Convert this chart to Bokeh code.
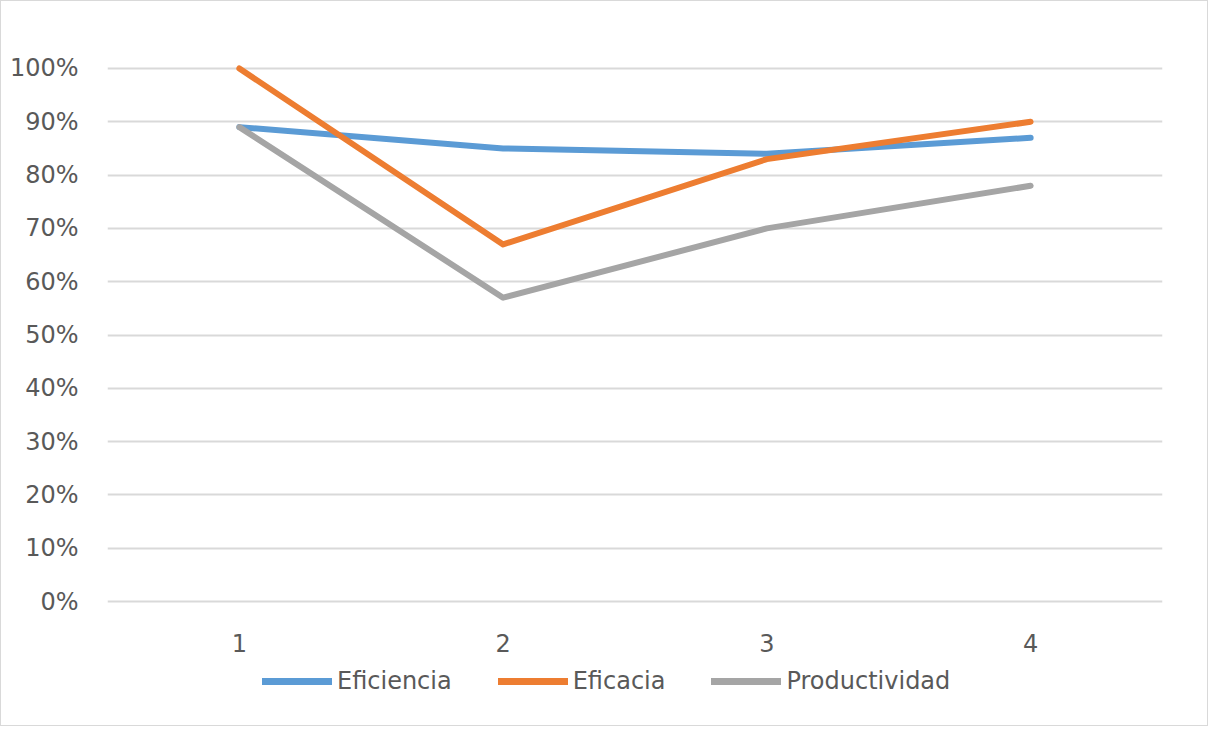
from bokeh.plotting import figure
from bokeh.layouts import column
from bokeh.models import Range1d, FixedTicker, NumeralTickFormatter, Legend, LegendItem
from bokeh.embed import file_html
from bokeh.resources import INLINE

categories = [1, 2, 3, 4]
eficiencia = [0.89, 0.85, 0.84, 0.87]
eficacia = [1.00, 0.67, 0.83, 0.90]
productividad = [0.89, 0.57, 0.70, 0.78]
y_ticks = [i / 10 for i in range(11)]
series_names = ["Eficiencia", "Eficacia", "Productividad"]
series_colors = ["#5B9BD5", "#ED7D31", "#A5A5A5"]

FONT = "DejaVu Sans"
TXT = "#595959"

p = figure(width=1206, height=660, output_backend="svg", toolbar_location=None,
           x_range=Range1d(0.5, 4.5), y_range=Range1d(-0.015, 1.015),
           min_border_left=106, min_border_right=45, min_border_top=59, min_border_bottom=52)
p.outline_line_color = None
p.background_fill_color = "white"
p.border_fill_color = "white"

p.xgrid.grid_line_color = None
p.ygrid.grid_line_color = "#d9d9d9"
p.ygrid.grid_line_width = 2
p.ygrid.ticker = FixedTicker(ticks=y_ticks)

p.yaxis.ticker = FixedTicker(ticks=y_ticks)
p.yaxis.formatter = NumeralTickFormatter(format="0%")
p.xaxis.ticker = FixedTicker(ticks=categories)
for ax in (p.xaxis[0], p.yaxis[0]):
    ax.axis_line_color = None
    ax.major_tick_line_color = None
    ax.minor_tick_line_color = None
    ax.major_label_text_font = FONT
    ax.major_label_text_font_size = "24px"
    ax.major_label_text_color = TXT
p.yaxis.major_label_standoff = 23
p.xaxis.major_label_standoff = 18

for vals, col in zip([eficiencia, eficacia, productividad], series_colors):
    p.line(categories, vals, line_color=col, line_width=6, line_cap="round", line_join="round")

# legend strip below the chart
q = figure(width=1206, height=64, output_backend="svg", toolbar_location=None,
           x_axis_type=None, y_axis_type=None,
           x_range=Range1d(0, 1), y_range=Range1d(0, 1),
           min_border_left=106, min_border_right=45, min_border_top=0, min_border_bottom=0)
q.outline_line_color = None
q.xgrid.grid_line_color = None
q.ygrid.grid_line_color = None
q.border_fill_color = "white"

nan = float("nan")
items = []
for name, col in zip(series_names, series_colors):
    r = q.line([nan], [nan], line_color=col, line_width=7, line_cap="round")
    items.append(LegendItem(label=name, renderers=[r]))

legend = Legend(items=items, orientation="horizontal", location=(155, 30),
                glyph_width=70, glyph_height=20, label_standoff=5, spacing=46,
                padding=0, margin=0, border_line_color=None, background_fill_alpha=0,
                label_text_font=FONT, label_text_font_size="24px", label_text_color=TXT)
q.add_layout(legend, "center")

layout = column(p, q, spacing=0)
layout.styles = {"border": "1px solid #d9d9d9"}

open("out.html", "w").write(file_html(layout, INLINE))
